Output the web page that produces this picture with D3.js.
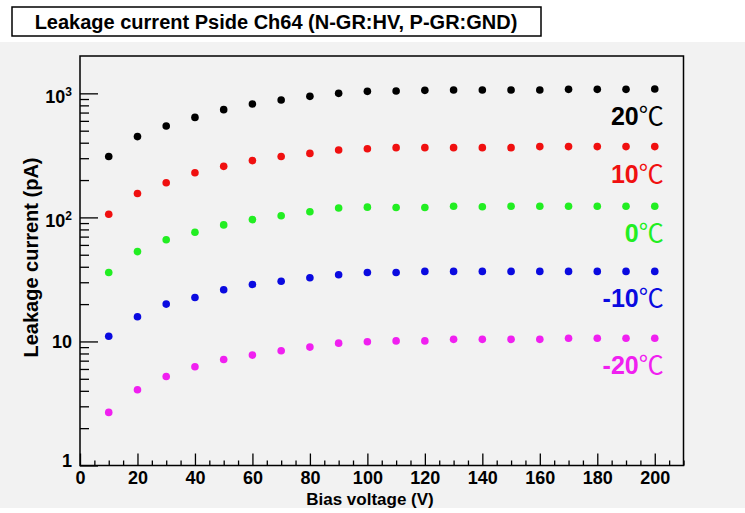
<!DOCTYPE html>
<html>
<head>
<meta charset="utf-8">
<script src="https://cdn.jsdelivr.net/npm/d3@7"></script>
<style>
  body { margin: 0; background: #ffffff; }
  svg { display: block; }
  text { font-family: "Liberation Sans", Arial, sans-serif; font-weight: bold; }
</style>
</head>
<body>
<svg id="chart" width="745" height="513"></svg>
<script>
// Bias voltage steps (V)
const voltages = [10, 20, 30, 40, 50, 60, 70, 80, 90, 100,
                  110, 120, 130, 140, 150, 160, 170, 180, 190, 200];

// Temperatures of each measured series (°C)
const temperatures = ["20", "10", "0", "-10", "-20"];

// Leakage current (pA) per temperature
const current20 = [310, 448, 545, 640, 739, 820, 883, 946, 1000, 1038,
                   1044, 1057, 1064, 1064, 1064, 1064, 1077, 1077, 1077, 1083];
const current10 = [106, 156, 190, 229, 258, 287, 310, 328, 349, 358,
                   365, 365, 365, 365, 365, 372, 372, 372, 372, 372];
const current0 = [36, 53, 66, 76, 87, 96, 103, 111, 119, 121,
                  120, 120, 123, 122, 123, 123, 123, 123, 123, 123];
const currentM10 = [11.0, 15.8, 20.0, 22.6, 26.1, 28.8, 30.6, 32.6, 34.5, 36.0,
                    36.0, 36.7, 36.7, 36.7, 36.7, 36.7, 36.7, 36.7, 36.7, 36.7];
const currentM20 = [2.68, 4.08, 5.22, 6.25, 7.16, 7.76, 8.41, 9.0, 9.69, 9.94,
                    10.1, 10.1, 10.4, 10.4, 10.4, 10.4, 10.6, 10.6, 10.6, 10.6];

// Axis ticks
const xTickValues = [0, 20, 40, 60, 80, 100, 120, 140, 160, 180, 200];
const yTickValues = [1, 10, 100, 1000];

const seriesValues = [current20, current10, current0, currentM10, currentM20];
const seriesColors = ["#000000", "#f01010", "#22ee22", "#0a0ae0", "#f020f0"];

const titleText = "Leakage current Pside Ch64 (N-GR:HV, P-GR:GND)";
const xTitle = "Bias voltage (V)";
const yTitle = "Leakage current (pA)";

const svg = d3.select("#chart");

// Canvas background
svg.append("rect")
  .attr("x", 0).attr("y", 42).attr("width", 745).attr("height", 466)
  .attr("fill", "#f2f2f2");

// Title box
svg.append("rect")
  .attr("x", 12).attr("y", 7).attr("width", 529).attr("height", 29)
  .attr("fill", "#ffffff").attr("stroke", "#000").attr("stroke-width", 1.5);
svg.append("text")
  .attr("x", 276).attr("y", 29)
  .attr("text-anchor", "middle")
  .attr("font-size", 20)
  .text(titleText);

// Scales
const x = d3.scaleLinear().domain([0, 210]).range([80, 683.5]);
const y = d3.scaleLog().domain([1, 2000]).range([465.5, 56]);

// Minor ticks
const xMinor = d3.range(0, 211, 5).filter(v => v % 20 !== 0);
const yMinor = [];
[1, 10, 100].forEach(dec => { for (let k = 2; k <= 9; k++) yMinor.push(dec * k); });

const xAxisMinor = svg.append("g")
  .attr("transform", `translate(0,${y.range()[0]})`)
  .call(d3.axisBottom(x).tickValues(xMinor).tickSizeInner(-5).tickSizeOuter(0).tickFormat(""));
const xAxisMajor = svg.append("g")
  .attr("transform", `translate(0,${y.range()[0]})`)
  .call(d3.axisBottom(x).tickValues(xTickValues).tickSizeInner(-12).tickSizeOuter(0)
        .tickPadding(6).tickFormat(d3.format("d")));

const yAxisMinor = svg.append("g")
  .attr("transform", `translate(${x.range()[0]},0)`)
  .call(d3.axisLeft(y).tickValues(yMinor).tickSizeInner(-9).tickSizeOuter(0).tickFormat(""));
const yAxisMajor = svg.append("g")
  .attr("transform", `translate(${x.range()[0]},0)`)
  .call(d3.axisLeft(y).tickValues(yTickValues).tickSizeInner(-18).tickSizeOuter(0)
        .tickPadding(8).tickFormat(d => String(d)));

[xAxisMinor, xAxisMajor, yAxisMinor, yAxisMajor].forEach(g => {
  g.select(".domain").remove();
  g.selectAll("line").attr("stroke", "#000").attr("stroke-width", 1.3);
  g.selectAll("text").attr("font-size", 18).attr("fill", "#000")
    .attr("font-family", "\"Liberation Sans\", Arial, sans-serif");
});

// Powers of ten with superscript exponents
yAxisMajor.selectAll("text").each(function(d) {
  const t = d3.select(this);
  const exp = Math.round(Math.log10(d));
  if (exp >= 2) {
    t.text("").attr("dy", "0.5em");
    t.append("tspan").text("10");
    t.append("tspan").attr("font-size", 12).attr("dy", -7).text(exp);
  } else if (exp === 0) {
    t.attr("dy", "0.05em");
  }
});

// Frame
svg.append("rect")
  .attr("x", x.range()[0]).attr("y", y.range()[1])
  .attr("width", x.range()[1] - x.range()[0])
  .attr("height", y.range()[0] - y.range()[1])
  .attr("fill", "none").attr("stroke", "#000").attr("stroke-width", 1.5);

// Axis titles
svg.append("text")
  .attr("x", 370).attr("y", 505)
  .attr("text-anchor", "middle")
  .attr("font-size", 17)
  .text(xTitle);
svg.append("text")
  .attr("transform", "translate(38,257.5) rotate(-90)")
  .attr("text-anchor", "middle")
  .attr("font-size", 20)
  .text(yTitle);

// Data points and temperature labels
seriesValues.forEach((vals, i) => {
  const col = seriesColors[i];
  svg.append("g").selectAll("circle")
    .data(voltages.map((v, j) => [v, vals[j]]))
    .join("circle")
      .attr("cx", d => x(d[0]))
      .attr("cy", d => y(d[1]))
      .attr("r", 3.8)
      .attr("fill", col);

  const last = vals[vals.length - 1];
  const label = svg.append("text")
    .attr("x", x(voltages[voltages.length - 1]) + 9)
    .attr("y", y(last) + 36)
    .attr("text-anchor", "end")
    .attr("fill", col);
  label.append("tspan").attr("font-size", 25).text(temperatures[i]);
  label.append("tspan")
    .attr("font-size", 25)
    .attr("font-weight", "normal")
    .attr("font-family", "\"Noto Sans CJK JP\", \"Noto Sans CJK SC\", sans-serif")
    .text("\u2103");
});
</script>
</body>
</html>
